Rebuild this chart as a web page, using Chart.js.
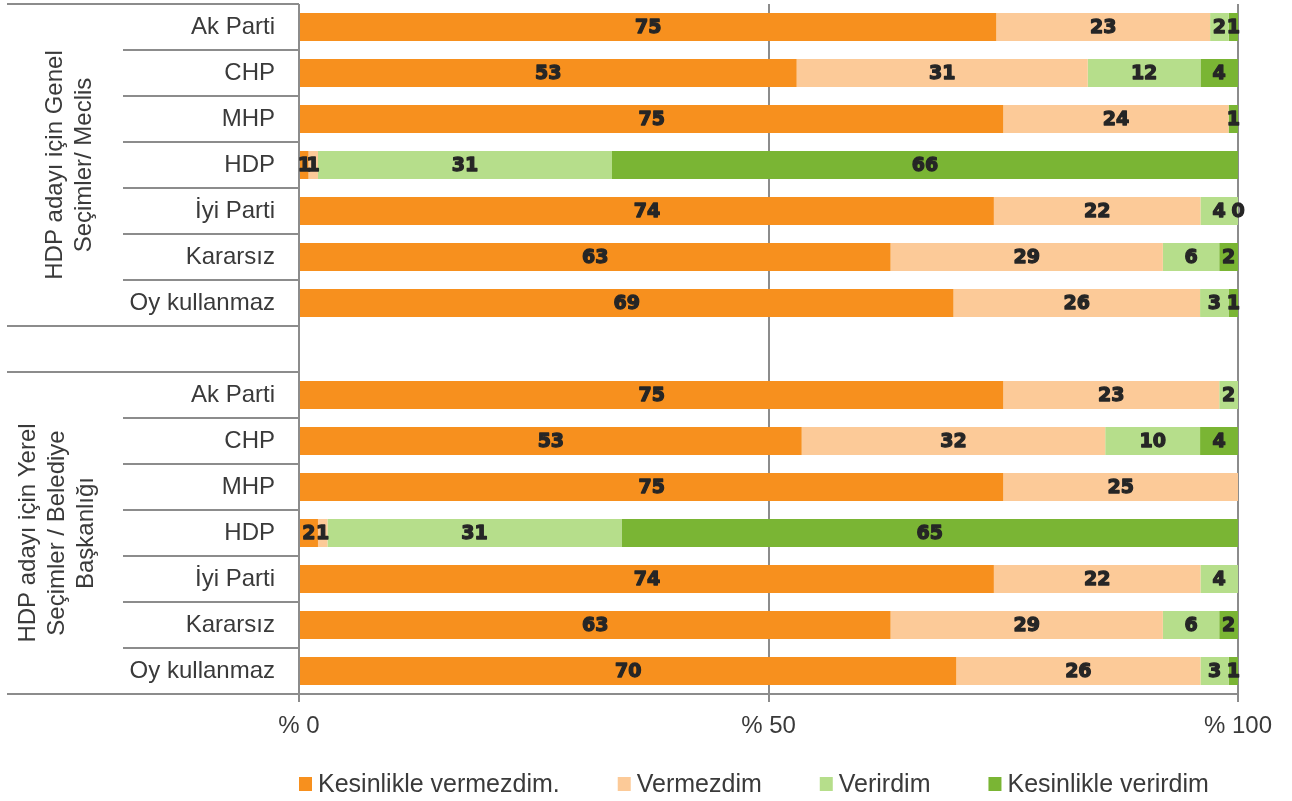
<!DOCTYPE html>
<html>
<head>
<meta charset="utf-8">
<script src="https://cdn.jsdelivr.net/npm/chart.js@4.4.1/dist/chart.umd.min.js"></script>
<style>
  html, body { margin: 0; padding: 0; background: #fff; }
  #wrap { width: 1292px; height: 801px; }
</style>
</head>
<body>
<div id="wrap"><canvas id="chart"></canvas></div>
<script>
// rows: 7 parties for general elections, empty spacer row, 7 parties for local elections
const categories = [
  "Ak Parti", "CHP", "MHP", "HDP", "İyi Parti", "Kararsız", "Oy kullanmaz",
  "",
  "Ak Parti", "CHP", "MHP", "HDP", "İyi Parti", "Kararsız", "Oy kullanmaz"
];
const groupLabels = [
  ["HDP adayı için Genel", "Seçimler/ Meclis"],
  ["HDP adayı için Yerel", "Seçimler / Belediye", "Başkanlığı"]
];
const seriesNames = ["Kesinlikle vermezdim.", "Vermezdim", "Verirdim", "Kesinlikle verirdim"];

const kesinlikleVermezdim = [75, 53, 75, 1, 74, 63, 69, null, 75, 53, 75, 2, 74, 63, 70];
const vermezdim           = [23, 31, 24, 1, 22, 29, 26, null, 23, 32, 25, 1, 22, 29, 26];
const verirdim            = [2, 12, null, 31, 4, 6, 3, null, 2, 10, null, 31, 4, 6, 3];
const kesinlikleVerirdim  = [1, 4, 1, 66, 0, 2, 1, null, null, 4, null, 65, null, 2, 1];

const xTicks = [0, 50, 100];

const colors = ["#F7901E", "#FCCA98", "#B6DE8B", "#7AB534"];
const gridColor = "#8c8c8c";
const textColor = "#3a3a3a";
const baseFont = "'Liberation Sans', Arial, sans-serif";

const raw = [kesinlikleVermezdim, vermezdim, verirdim, kesinlikleVerirdim];

// 100% stacked: each row is scaled to its own total
const rowTotals = categories.map((_, i) =>
  raw.reduce((s, arr) => s + (arr[i] || 0), 0)
);
const shares = raw.map(arr =>
  arr.map((v, i) => (v === null ? null : (rowTotals[i] ? v / rowTotals[i] * 100 : 0)))
);

const valueLabels = {
  id: "valueLabels",
  afterDatasetsDraw(chart) {
    const ctx = chart.ctx;
    ctx.save();
    ctx.font = "bold 19px 'DejaVu Sans', sans-serif";
    ctx.fillStyle = "#262626";
    ctx.strokeStyle = "#262626";
    ctx.lineWidth = 1.3;
    ctx.lineJoin = "round";
    ctx.textAlign = "center";
    ctx.textBaseline = "middle";
    chart.data.datasets.forEach((ds, di) => {
      const meta = chart.getDatasetMeta(di);
      meta.data.forEach((bar, i) => {
        const v = raw[di][i];
        if (v === null || v === undefined) return;
        const p = bar.getProps(["x", "y", "base"], true);
        const cx = (p.x + p.base) / 2;
        // stroked too, for a heavier look
        ctx.fillText(String(v), cx, p.y + 1);
        ctx.strokeText(String(v), cx, p.y + 1);
      });
    });
    ctx.restore();
  }
};

const sideLabels = {
  id: "sideLabels",
  afterDraw(chart) {
    const ctx = chart.ctx;
    const y = chart.scales.y;
    const area = chart.chartArea;
    const edge = i => y.getPixelForValue(i + 0.5);
    ctx.save();
    ctx.strokeStyle = gridColor;
    ctx.lineWidth = 2;
    const line = (x0, yy) => {
      ctx.beginPath();
      ctx.moveTo(x0, yy);
      ctx.lineTo(area.left, yy);
      ctx.stroke();
    };
    // group borders
    [-1, 6, 7, 14].forEach(i => line(7, edge(i)));
    // separators between categories
    [0, 1, 2, 3, 4, 5, 8, 9, 10, 11, 12, 13].forEach(i => line(123, edge(i)));

    // rotated group titles
    ctx.fillStyle = textColor;
    ctx.font = "24px " + baseFont;
    ctx.textAlign = "center";
    ctx.textBaseline = "middle";
    const groupCenters = [{ row: 3, x: 70 }, { row: 11, x: 57 }];
    groupLabels.forEach((lines, g) => {
      const cy = y.getPixelForValue(groupCenters[g].row);
      const lh = 29;
      ctx.save();
      ctx.translate(groupCenters[g].x, cy);
      ctx.rotate(-Math.PI / 2);
      lines.forEach((t, k) => {
        ctx.fillText(t, 0, (k - (lines.length - 1) / 2) * lh);
      });
      ctx.restore();
    });

    // legend
    ctx.font = "25px " + baseFont;
    ctx.textAlign = "left";
    let lx = area.left;
    const ly = 784;
    seriesNames.forEach((name, k) => {
      ctx.fillStyle = colors[k];
      ctx.fillRect(lx, ly - 7, 13, 14);
      ctx.fillStyle = textColor;
      ctx.fillText(name, lx + 19, ly + 1);
      lx += 19 + ctx.measureText(name).width + 58;
    });
    ctx.restore();
  }
};

new Chart(document.getElementById("chart"), {
  type: "bar",
  data: {
    labels: categories,
    datasets: seriesNames.map((name, k) => ({
      label: name,
      data: shares[k],
      backgroundColor: colors[k],
      borderWidth: 0,
      categoryPercentage: 0.61,
      barPercentage: 1
    }))
  },
  options: {
    indexAxis: "y",
    responsive: true,
    maintainAspectRatio: false,
    animation: false,
    layout: { padding: { top: 4, right: 54, left: 0, bottom: 0 } },
    plugins: {
      legend: { display: false },
      tooltip: { enabled: false }
    },
    scales: {
      x: {
        stacked: true,
        min: 0,
        max: 100,
        afterBuildTicks: scale => { scale.ticks = xTicks.map(v => ({ value: v })); },
        afterFit: scale => { scale.height = 107; },
        grid: { color: gridColor, lineWidth: 2, tickLength: 8, tickColor: gridColor },
        border: { display: true, color: gridColor, width: 2 },
        ticks: {
          padding: 10,
          color: textColor,
          font: { family: baseFont, size: 24 },
          callback: v => "% " + v
        }
      },
      y: {
        stacked: true,
        afterFit: scale => {
          scale.width = 299;
          scale.paddingTop = 0;
          scale.paddingBottom = 0;
        },
        grid: { display: false, drawTicks: false },
        border: { display: false },
        ticks: {
          padding: 24,
          color: textColor,
          font: { family: baseFont, size: 24 },
          autoSkip: false
        }
      }
    }
  },
  plugins: [valueLabels, sideLabels]
});
</script>
</body>
</html>
